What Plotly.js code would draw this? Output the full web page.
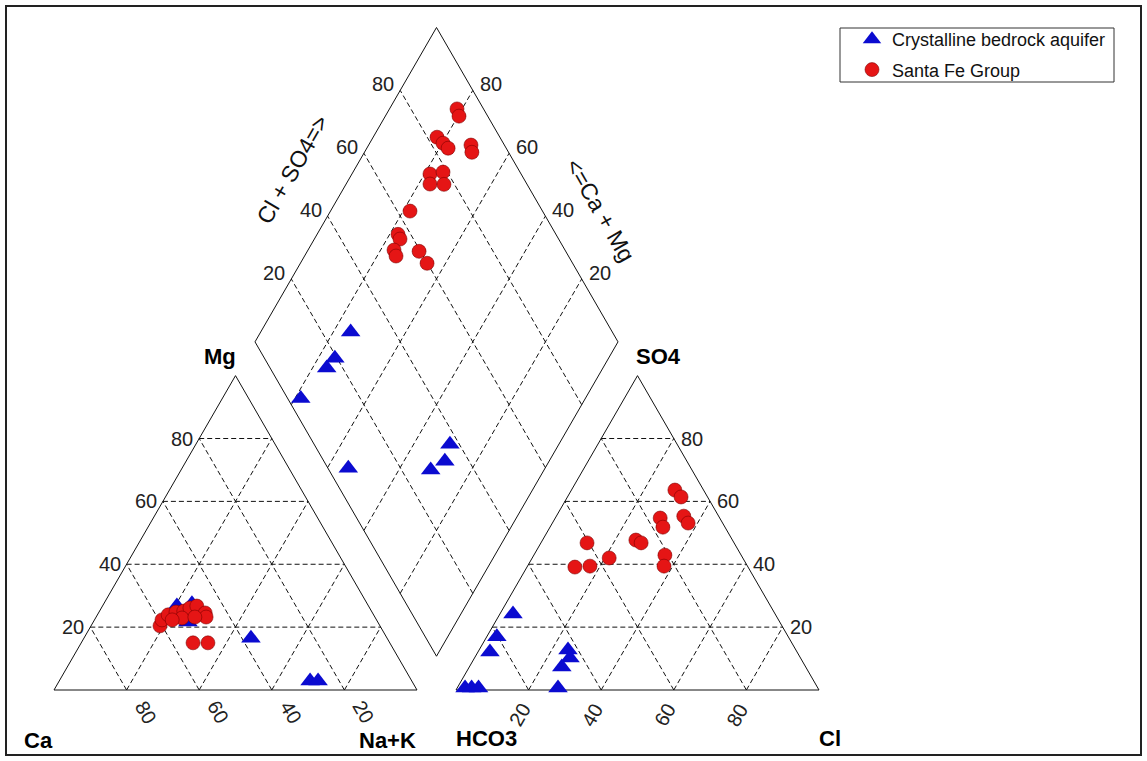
<!DOCTYPE html>
<html>
<head>
<meta charset="utf-8">
<script src="https://cdn.plot.ly/plotly-3.0.1.min.js"></script>
<style>
html,body{margin:0;padding:0;background:#fff;}
#chart{width:1147px;height:761px;}
</style>
</head>
<body>
<div id="chart"></div>
<script>
// ---------------- DATA (percent of meq) ----------------
const tickValues = [20, 40, 60, 80];
const seriesNames = ["Crystalline bedrock aquifer", "Santa Fe Group"];

// Crystalline bedrock aquifer - cation triangle
const crysCa  = [52.8, 48.3, 52.3, 37.5, 28.0, 25.8];
const crysMg  = [26.7, 27.4, 21.6, 16.5, 2.9, 2.9];
const crysNaK = [20.5, 24.3, 26.1, 46.0, 69.1, 71.3];
// Crystalline bedrock aquifer - anion triangle
const crysHCO3 = [72.2, 80.3, 84.6, 97.2, 95.4, 93.5, 62.8, 63.5, 67.2, 71.6];
const crysSO4  = [24.2, 16.9, 12.1, 0.6, 0.6, 0.6, 12.7, 10.2, 7.3, 0.6];
const crysCl   = [3.6, 2.8, 3.3, 2.2, 4.0, 5.9, 24.5, 26.3, 25.5, 27.8];
// Crystalline bedrock aquifer - diamond
const crysCaMg  = [75.2, 75.4, 76.1, 78.4, 54.2, 30.0, 28.7, 31.2];
const crysClSO4 = [27.9, 19.4, 15.6, 3.6, 5.6, 37.4, 33.3, 28.0];

// Santa Fe Group - cation triangle
const sfCa  = [60.6, 59.1, 56.6, 54.0, 51.7, 49.5, 47.3, 46.1, 46.5, 53.3, 56.3, 49.6, 54.2, 50.1];
const sfMg  = [20.4, 22.3, 23.9, 24.8, 25.1, 26.1, 26.7, 24.5, 23.2, 22.9, 22.3, 23.2, 15.0, 15.0];
const sfNaK = [19.0, 18.6, 19.5, 21.2, 23.2, 24.4, 26.0, 29.4, 30.3, 23.8, 21.4, 27.2, 30.8, 34.9];
// Santa Fe Group - anion triangle
const sfHCO3 = [7.9, 7.3, 16.4, 17.1, 9.6, 9.5, 26.6, 25.6, 21.0, 23.0, 40.5, 36.8, 47.7, 43.4];
const sfSO4  = [63.6, 61.4, 54.7, 51.8, 55.3, 53.1, 47.7, 46.8, 42.9, 39.4, 46.8, 42.0, 39.1, 39.4];
const sfCl   = [28.5, 31.3, 28.9, 31.1, 35.1, 37.4, 25.7, 27.6, 36.1, 37.6, 12.7, 21.2, 13.2, 17.2];
// Santa Fe Group - diamond
const sfCaMg  = [81.4, 79.7, 82.4, 79.8, 77.6, 71.8, 70.4, 78.5, 75.2, 76.9, 73.0, 78.1, 77.7, 76.4, 76.3, 74.8, 69.2, 65.1];
const sfClSO4 = [92.7, 92.1, 82.7, 83.4, 84.0, 90.8, 89.9, 74.9, 78.8, 73.3, 77.1, 63.5, 56.5, 56.3, 52.9, 52.5, 59.6, 59.9];

// ---------------- GEOMETRY (Piper layout, triangle side = 1) ----------------
const S = Math.sqrt(3) / 2;
const GAP = 39 / 363;
const XR = 1 + GAP;                   // x of HCO3 corner
const B0 = 1 + GAP / 2, B1 = GAP * S; // bottom vertex of diamond

function L(a, b) { return [a + b / 2, b * S]; }          // a = Na+K, b = Mg
function R(a, b) { return [XR + a + b / 2, b * S]; }     // a = Cl, b = SO4
function D(u, v) { return [B0 + (v - u) / 2, B1 + (u + v) * S]; } // u = Ca+Mg, v = Cl+SO4

function project(catCa, catMg, catNa, anH, anS, anC, dCaMg, dClS) {
  const xs = [], ys = [];
  for (let i = 0; i < catCa.length; i++) {
    const t = catCa[i] + catMg[i] + catNa[i];
    const p = L(catNa[i] / t, catMg[i] / t); xs.push(p[0]); ys.push(p[1]);
  }
  for (let i = 0; i < anH.length; i++) {
    const t = anH[i] + anS[i] + anC[i];
    const p = R(anC[i] / t, anS[i] / t); xs.push(p[0]); ys.push(p[1]);
  }
  for (let i = 0; i < dCaMg.length; i++) {
    const p = D(dCaMg[i] / 100, dClS[i] / 100); xs.push(p[0]); ys.push(p[1]);
  }
  return [xs, ys];
}

// grid lines
const gx = [], gy = [];
function seg(p, q) { gx.push(p[0], q[0], null); gy.push(p[1], q[1], null); }
tickValues.forEach(tv => {
  const f = tv / 100;
  seg(L(0, f), L(1 - f, f)); seg(L(1 - f, 0), L(0, 1 - f)); seg(L(f, 0), L(f, 1 - f));
  seg(R(0, f), R(1 - f, f)); seg(R(1 - f, 0), R(0, 1 - f)); seg(R(f, 0), R(f, 1 - f));
  seg(D(f, 0), D(f, 1)); seg(D(0, f), D(1, f));
});
// outlines
const ox = [], oy = [];
function poly(pts) { pts.forEach(p => { ox.push(p[0]); oy.push(p[1]); }); ox.push(pts[0][0], null); oy.push(pts[0][1], null); }
poly([L(0, 0), L(1, 0), L(0, 1)]);
poly([R(0, 0), R(1, 0), R(0, 1)]);
poly([D(0, 0), D(1, 0), D(1, 1), D(0, 1)]);

const crys = project(crysCa, crysMg, crysNaK, crysHCO3, crysSO4, crysCl, crysCaMg, crysClSO4);
const sf = project(sfCa, sfMg, sfNaK, sfHCO3, sfSO4, sfCl, sfCaMg, sfClSO4);

const FONT = "Liberation Sans, Arial, Helvetica, sans-serif";
const traces = [
  { x: gx, y: gy, mode: "lines", line: { color: "#111", width: 1, dash: "5px,3px" }, hoverinfo: "skip", showlegend: false },
  { x: ox, y: oy, mode: "lines", line: { color: "#111", width: 1 }, hoverinfo: "skip", showlegend: false },
  { x: crys[0], y: crys[1], mode: "markers", name: seriesNames[0], legendgroup: "a",
    marker: { symbol: "triangle-up", size: 17, color: "#0b0bd0", line: { width: 0 } }, hoverinfo: "skip" },
  { x: sf[0], y: sf[1], mode: "markers", name: seriesNames[1], legendgroup: "b",
    marker: { symbol: "circle", size: 14, color: "#e51515", line: { width: 0.8, color: "rgba(120,0,0,0.7)" } }, hoverinfo: "skip" }
];

// annotations
const ann = [];
function lab(p, text, o) {
  ann.push(Object.assign({ x: p[0], y: p[1], xref: "x", yref: "y", text: text, showarrow: false,
    font: { family: FONT, size: 20, color: "#222" }, xanchor: "center", yanchor: "middle" }, o || {}));
}
tickValues.forEach(tv => {
  const f = tv / 100, t = String(tv);
  lab(L(0, f), t, { xanchor: "right", xshift: -4 });
  lab(L(1 - f, 0), t, { textangle: 60, xshift: 19, yshift: -22 });
  lab(R(1 - f, f), t, { xanchor: "left", xshift: 5 });
  lab(R(f, 0), t, { textangle: -60, xshift: -9, yshift: -25 });
  lab(D(1, f), t, { xanchor: "right", xshift: -4, yshift: 6 });
  lab(D(f, 1), t, { xanchor: "left", xshift: 5, yshift: 6 });
});
const bold = { family: FONT, size: 22, color: "#000", weight: "bold" };
lab(L(0, 1), "<b>Mg</b>", { font: bold, xshift: -16, yshift: 19 });
lab(R(0, 1), "<b>SO4</b>", { font: bold, xshift: 21, yshift: 19 });
lab(L(0, 0), "<b>Ca</b>", { font: bold, xshift: -16, yshift: -50 });
lab(L(1, 0), "<b>Na+K</b>", { font: bold, xshift: -30, yshift: -50 });
lab(R(0, 0), "<b>HCO3</b>", { font: bold, xshift: 30, yshift: -48 });
lab(R(1, 0), "<b>Cl</b>", { font: bold, xshift: 11, yshift: -48 });
const titleFont = { family: FONT, size: 23, color: "#111" };
lab(D(1, 0.55), "Cl + SO4=>", { textangle: -60, xshift: -62, yshift: 0, font: titleFont });
lab(D(0.4186, 1), "<=Ca + Mg", { textangle: 60, xshift: 58, yshift: 0, font: titleFont });

const W = 1147, H = 761, PX = 363, OX = 54, OY = 690;
const layout = {
  width: W, height: H, autosize: false,
  margin: { l: 0, r: 0, t: 0, b: 0 },
  paper_bgcolor: "#fff", plot_bgcolor: "#fff",
  xaxis: { range: [-OX / PX, (W - OX) / PX], visible: false, fixedrange: true },
  yaxis: { range: [(OY - H) / PX, OY / PX], visible: false, fixedrange: true },
  showlegend: true,
  legend: { x: 852 / W, y: 1 - 21 / H, xanchor: "left", yanchor: "top", bgcolor: "rgba(0,0,0,0)",
    borderwidth: 0, font: { family: FONT, size: 18, color: "#111" },
    traceorder: "grouped", tracegroupgap: 4 },
  annotations: ann,
  shapes: [
    { type: "rect", xref: "paper", yref: "paper", x0: 6 / W, x1: 1141 / W, y0: 1 - 755 / H, y1: 1 - 6 / H,
      line: { color: "#222", width: 2 } },
    { type: "rect", xref: "paper", yref: "paper", x0: 840 / W, x1: 1114 / W, y0: 1 - 82 / H, y1: 1 - 28 / H,
      line: { color: "#333", width: 1 } }
  ]
};
Plotly.newPlot("chart", traces, layout, { staticPlot: true, displayModeBar: false });
</script>
</body>
</html>
